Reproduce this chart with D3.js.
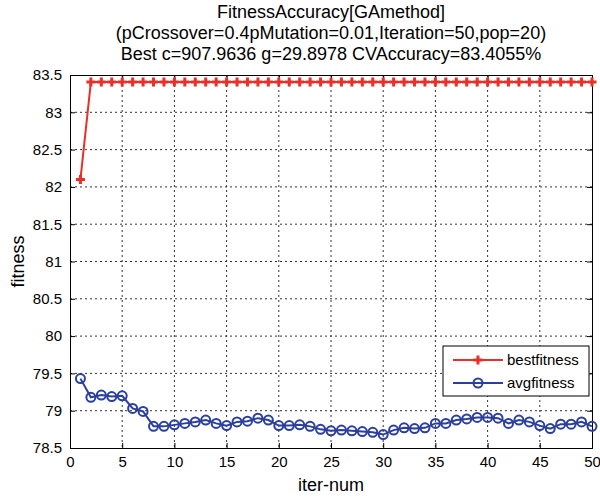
<!DOCTYPE html>
<html>
<head>
<meta charset="utf-8">
<script src="https://cdn.jsdelivr.net/npm/d3@7"></script>
<style>
  body { margin: 0; background: #fff; }
  text { font-family: "Liberation Sans", Arial, sans-serif; fill: #000; }
</style>
</head>
<body>
<svg id="chart" width="600" height="498"></svg>
<script>
var iterations = d3.range(1, 51);
var bestFitness = [82.1].concat(d3.range(49).map(function() { return 83.4055; }));
var avgFitness = [
  79.43, 79.18, 79.21, 79.19, 79.20, 79.03, 78.99, 78.79, 78.79, 78.81,
  78.83, 78.85, 78.875, 78.83, 78.80, 78.85, 78.86, 78.90, 78.875, 78.80,
  78.80, 78.81, 78.79, 78.75, 78.73, 78.74, 78.73, 78.72, 78.71, 78.68,
  78.74, 78.77, 78.76, 78.77, 78.83, 78.83, 78.875, 78.89, 78.91, 78.91,
  78.90, 78.83, 78.875, 78.85, 78.80, 78.76, 78.82, 78.82, 78.85, 78.79
];
var xTicks = [0, 5, 10, 15, 20, 25, 30, 35, 40, 45, 50];
var yTicks = [78.5, 79, 79.5, 80, 80.5, 81, 81.5, 82, 82.5, 83, 83.5];
var titleLines = [
  "FitnessAccuracy[GAmethod]",
  "(pCrossover=0.4pMutation=0.01,Iteration=50,pop=20)",
  "Best c=907.9636 g=29.8978 CVAccuracy=83.4055%"
];
var seriesNames = ["bestfitness", "avgfitness"];

var red = "#e8302a";
var blue = "#2b3f9e";

var margin = { top: 75, right: 8, bottom: 50, left: 70 };
var width = 600, height = 498;
var plotW = width - margin.left - margin.right;
var plotH = height - margin.top - margin.bottom;

var svg = d3.select("#chart");
var plot = svg.append("g")
  .attr("transform", "translate(" + margin.left + "," + margin.top + ")");

var x = d3.scaleLinear().domain([0, 50]).range([0, plotW]);
var y = d3.scaleLinear().domain([78.5, 83.5]).range([plotH, 0]);

// grid
plot.append("g").selectAll("line.gx")
  .data(xTicks.slice(1, -1)).enter().append("line")
  .attr("x1", d => x(d)).attr("x2", d => x(d))
  .attr("y1", 0).attr("y2", plotH)
  .attr("stroke", "#333").attr("stroke-width", 1)
  .attr("stroke-dasharray", "2,3");
plot.append("g").selectAll("line.gy")
  .data(yTicks.slice(1, -1)).enter().append("line")
  .attr("y1", d => y(d)).attr("y2", d => y(d))
  .attr("x1", 0).attr("x2", plotW)
  .attr("stroke", "#333").attr("stroke-width", 1)
  .attr("stroke-dasharray", "2,3");

// axes
var xAxis = d3.axisBottom(x).tickValues(xTicks).tickSize(-5).tickPadding(8);
var yAxis = d3.axisLeft(y).tickValues(yTicks).tickSize(-5).tickPadding(8)
  .tickFormat(d3.format("~g"));

var gx = plot.append("g").attr("transform", "translate(0," + plotH + ")").call(xAxis);
var gy = plot.append("g").call(yAxis);
plot.append("g").call(d3.axisTop(x).tickValues(xTicks).tickSize(-5).tickFormat(""));
plot.append("g").attr("transform", "translate(" + plotW + ",0)")
  .call(d3.axisRight(y).tickValues(yTicks).tickSize(-5).tickFormat(""));

plot.selectAll(".domain").attr("stroke", "#000");
plot.selectAll(".tick line").attr("stroke", "#000");
gx.selectAll("text").style("font-size", "15px").style("font-family", "Liberation Sans, Arial, sans-serif");
gy.selectAll("text").style("font-size", "15px").style("font-family", "Liberation Sans, Arial, sans-serif");

// lines
var line = d3.line().x((d, i) => x(iterations[i])).y(d => y(d));

plot.append("path").datum(bestFitness)
  .attr("d", line).attr("fill", "none")
  .attr("stroke", red).attr("stroke-width", 2);

var star = d3.symbol().type(d3.symbolCross).size(45);
plot.append("g").selectAll("path")
  .data(bestFitness).enter().append("path")
  .attr("d", star)
  .attr("transform", (d, i) => "translate(" + x(iterations[i]) + "," + y(d) + ")")
  .attr("fill", red);

plot.append("path").datum(avgFitness)
  .attr("d", line).attr("fill", "none")
  .attr("stroke", blue).attr("stroke-width", 2);

plot.append("g").selectAll("circle")
  .data(avgFitness).enter().append("circle")
  .attr("cx", (d, i) => x(iterations[i]))
  .attr("cy", d => y(d))
  .attr("r", 4.5)
  .attr("fill", "none")
  .attr("stroke", blue).attr("stroke-width", 2);

// legend
var legend = plot.append("g").attr("transform", "translate(" + (plotW - 149) + "," + (plotH - 102) + ")");
legend.append("rect")
  .attr("width", 146).attr("height", 50)
  .attr("fill", "#fff").attr("stroke", "#000").attr("stroke-width", 1);
var colors = [red, blue];
seriesNames.forEach(function(name, i) {
  var ly = 14 + i * 23;
  legend.append("line")
    .attr("x1", 10).attr("x2", 60).attr("y1", ly).attr("y2", ly)
    .attr("stroke", colors[i]).attr("stroke-width", 2);
  if (i === 0) {
    legend.append("path").attr("d", star)
      .attr("transform", "translate(35," + ly + ")").attr("fill", red);
  } else {
    legend.append("circle").attr("cx", 35).attr("cy", ly).attr("r", 4.5)
      .attr("fill", "none").attr("stroke", blue).attr("stroke-width", 2);
  }
  legend.append("text")
    .attr("x", 64).attr("y", ly + 5)
    .style("font-size", "15px")
    .text(name);
});

// titles
svg.append("g").selectAll("text")
  .data(titleLines).enter().append("text")
  .attr("x", margin.left + plotW / 2)
  .attr("y", (d, i) => 18 + i * 21)
  .attr("text-anchor", "middle")
  .style("font-size", "18px")
  .text(d => d);

svg.append("text")
  .attr("x", margin.left + plotW / 2)
  .attr("y", 491)
  .attr("text-anchor", "middle")
  .style("font-size", "18px")
  .text("iter-num");

svg.append("text")
  .attr("transform", "translate(24," + (margin.top + plotH / 2) + ") rotate(-90)")
  .attr("text-anchor", "middle")
  .style("font-size", "18px")
  .text("fitness");
</script>
</body>
</html>
